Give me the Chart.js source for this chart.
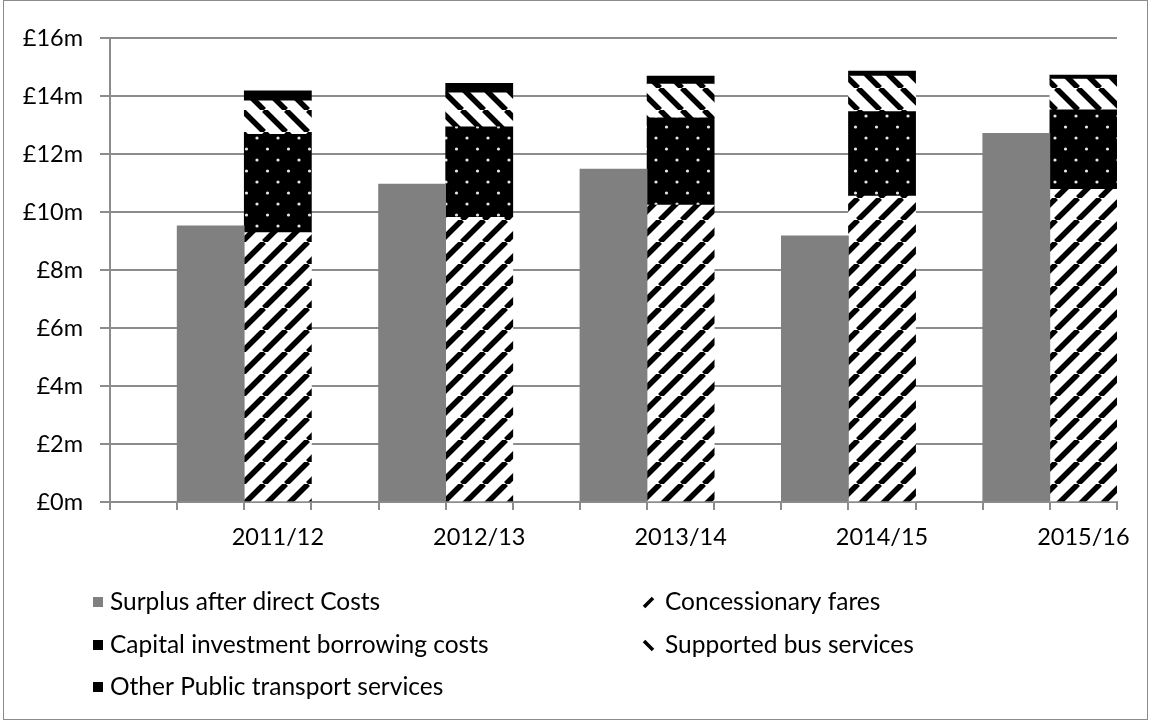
<!DOCTYPE html>
<html lang="en">

<head>
  <meta charset="UTF-8">
  <title>Public transport funding</title>
  <script src="https://cdn.jsdelivr.net/npm/chart.js"></script>
  <style>
    body { margin: 0; background: #fff; }
    .chart-box { position: relative; width: 1149px; height: 721px; }
    .chart-frame { position: absolute; left: 3px; top: 0; width: 1143px; height: 718px; border: 1px solid #8c8c8c; pointer-events: none; }
  </style>
</head>

<body>
  <div class="chart-box">
    <canvas id="fundingChart" width="1149" height="721"></canvas>
    <div class="chart-frame"></div>
  </div>

  <script>
    // Data (£m)
    const years = ['2011/12', '2012/13', '2013/14', '2014/15', '2015/16'];
    const surplus = [9.52, 10.96, 11.48, 9.18, 12.71];
    const concessionary = [9.29, 9.82, 10.24, 10.55, 10.78];
    const capital = [3.39, 3.12, 3.01, 2.91, 2.74];
    const supported = [1.15, 1.17, 1.16, 1.23, 1.06];
    const otherTransport = [0.35, 0.33, 0.28, 0.17, 0.14];
    const yTicks = [0, 2, 4, 6, 8, 10, 12, 14, 16];

    // each year uses three slots: empty, surplus bar, stacked bar (labelled)
    const slots = [];
    years.forEach(y => slots.push('', '', y));

    function toSlots(values, offset) {
      const out = slots.map(() => null);
      values.forEach((v, i) => { out[i * 3 + offset] = v; });
      return out;
    }

    function stripes(dir) {
      const s = 22;
      const c = document.createElement('canvas');
      c.width = s; c.height = s;
      const g = c.getContext('2d');
      g.fillStyle = '#fff';
      g.fillRect(0, 0, s, s);
      g.strokeStyle = '#000';
      g.lineWidth = 5.5;
      g.beginPath();
      for (const k of [-s, 0, s]) {
        if (dir > 0) { g.moveTo(k, s); g.lineTo(k + s, 0); }
        else { g.moveTo(k, 0); g.lineTo(k + s, s); }
      }
      g.stroke();
      return g.createPattern(c, 'repeat');
    }

    function dots() {
      const c = document.createElement('canvas');
      c.width = 21; c.height = 22;
      const g = c.getContext('2d');
      g.fillStyle = '#000';
      g.fillRect(0, 0, 21, 22);
      g.fillStyle = '#e6e6e6';
      g.beginPath(); g.arc(5, 6, 1.6, 0, Math.PI * 2); g.fill();
      g.beginPath(); g.arc(15.5, 17, 1.6, 0, Math.PI * 2); g.fill();
      return g.createPattern(c, 'repeat');
    }

    const FONT = { family: 'Lato', size: 23.5 };
    const LEGEND_SIZE = 24.5;
    const GRID = '#8c8c8c';

    // legend in two columns, drawn under the plot
    const legendBoxes = {
      id: 'legendBoxes',
      afterDraw(chart) {
        const ctx = chart.ctx;
        const cols = [93, 643];
        const rows = [602, 645, 687];
        const kinds = ['grey', 'up', 'black', 'down', 'black'];
        ctx.save();
        ctx.font = LEGEND_SIZE + 'px ' + FONT.family;
        ctx.textBaseline = 'middle';
        chart.data.datasets.forEach((ds, i) => {
          const x = cols[i % 2], y = rows[Math.floor(i / 2)];
          const k = kinds[i];
          if (k === 'grey' || k === 'black') {
            ctx.fillStyle = k === 'grey' ? '#808080' : '#000';
            ctx.fillRect(x, y - 5, 10, 10);
          } else {
            ctx.strokeStyle = '#000';
            ctx.lineWidth = 3.5;
            ctx.beginPath();
            if (k === 'up') { ctx.moveTo(x + 1, y + 5); ctx.lineTo(x + 10, y - 4); }
            else { ctx.moveTo(x + 1, y - 4); ctx.lineTo(x + 10, y + 5); }
            ctx.stroke();
          }
          ctx.fillStyle = '#000';
          ctx.fillText(ds.label, x + (i % 2 ? 22 : 17), y);
        });
        ctx.restore();
      }
    };

    const common = { categoryPercentage: 1, barPercentage: 1, borderWidth: 0 };

    new Chart(document.getElementById('fundingChart'), {
      type: 'bar',
      data: {
        labels: slots,
        datasets: [
          { label: 'Surplus after direct Costs', data: toSlots(surplus, 1), backgroundColor: '#808080', ...common },
          { label: 'Concessionary fares', data: toSlots(concessionary, 2), backgroundColor: stripes(1), ...common },
          { label: 'Capital investment borrowing costs', data: toSlots(capital, 2), backgroundColor: dots(), ...common },
          { label: 'Supported bus services', data: toSlots(supported, 2), backgroundColor: stripes(-1), ...common },
          { label: 'Other Public transport services', data: toSlots(otherTransport, 2), backgroundColor: '#000', ...common }
        ]
      },
      options: {
        responsive: false,
        animation: false,
        layout: { padding: { left: 0, right: 32, top: 38, bottom: 0 } },
        plugins: { legend: { display: false }, tooltip: { enabled: false } },
        scales: {
          x: {
            stacked: true,
            grid: { offset: true, drawOnChartArea: false, tickLength: 8, color: GRID, lineWidth: 2 },
            border: { color: GRID, width: 2 },
            ticks: { autoSkip: false, maxRotation: 0, color: '#000', font: FONT, padding: 13 },
            afterFit(scale) { scale.height = 219; }
          },
          y: {
            stacked: true,
            min: yTicks[0],
            max: yTicks[yTicks.length - 1],
            afterBuildTicks(scale) { scale.ticks = yTicks.map(v => ({ value: v })); },
            grid: { tickLength: 10, color: GRID, lineWidth: 2 },
            border: { color: GRID, width: 2 },
            ticks: { color: '#000', font: FONT, padding: 17, callback: v => '£' + v + 'm' },
            afterFit(scale) { scale.width = 110; }
          }
        }
      },
      plugins: [legendBoxes]
    });
  </script>
</body>

</html>
